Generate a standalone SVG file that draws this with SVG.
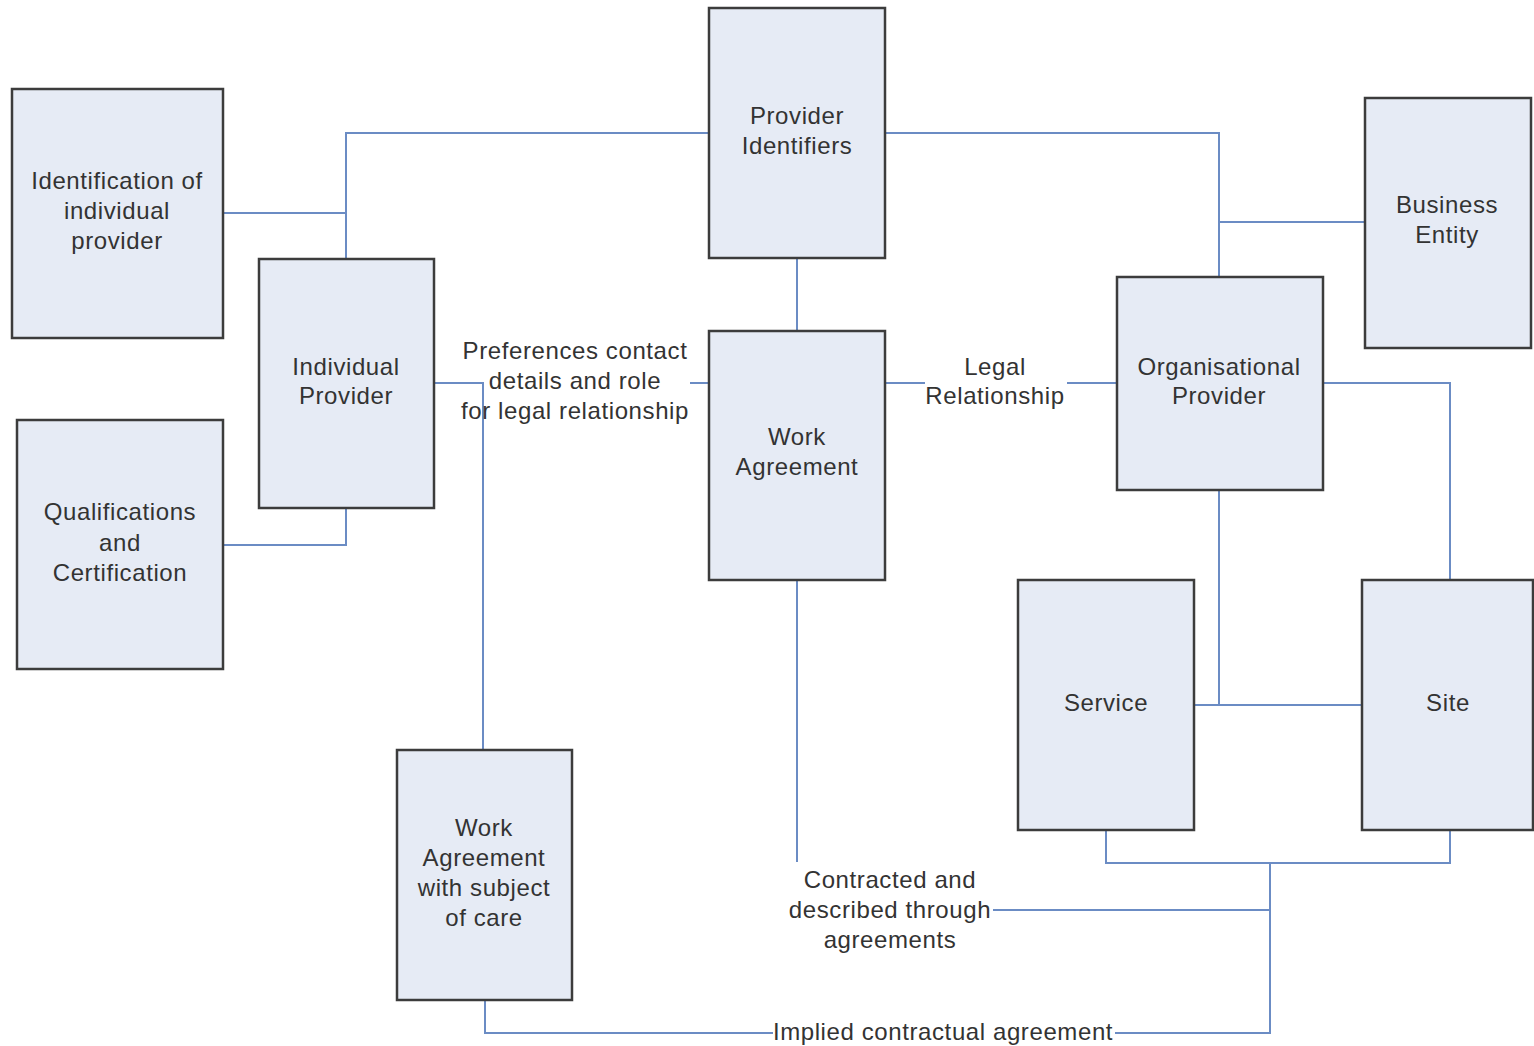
<svg xmlns="http://www.w3.org/2000/svg" width="1534" height="1046" viewBox="0 0 1534 1046">
<style>
.box{fill:#e6ebf5;stroke:#3c3c3c;stroke-width:2.5}
.t{font-family:"Liberation Sans",Arial,sans-serif;font-size:24px;letter-spacing:0.6px;fill:#333;text-anchor:middle}
.c{fill:none;stroke:#6b8cc4;stroke-width:2}
</style>
<rect width="1534" height="1046" fill="#fff"/>
<g id="connectors">
<path class="c" d="M709 133H346V259M223 213H346"/>
<path class="c" d="M885 133H1219V277M1365 222H1219"/>
<path class="c" d="M797 258V331"/>
<path class="c" d="M346 508V545H223"/>
<path class="c" d="M434 383H483V750M690 383H709"/>
<path class="c" d="M885 383H925M1067 383H1117"/>
<path class="c" d="M1323 383H1450V580"/>
<path class="c" d="M1219 490V705M1194 705H1362"/>
<path class="c" d="M797 580V862M993 910H1270"/>
<path class="c" d="M1106 830V863H1450V830M1270 863V1033H1115M773 1033H485V1000"/>
</g>
<g id="n1"><rect class="box" x="12" y="89" width="211" height="249"/><text class="t" x="117" y="189">Identification of</text><text class="t" x="117" y="219">individual</text><text class="t" x="117" y="249">provider</text></g>
<g id="n2"><rect class="box" x="17" y="420" width="206" height="249"/><text class="t" x="120" y="520">Qualifications</text><text class="t" x="120" y="551">and</text><text class="t" x="120" y="581">Certification</text></g>
<g id="n3"><rect class="box" x="259" y="259" width="175" height="249"/><text class="t" x="346" y="375">Individual</text><text class="t" x="346" y="404">Provider</text></g>
<g id="n4"><rect class="box" x="709" y="8" width="176" height="250"/><text class="t" x="797" y="124">Provider</text><text class="t" x="797" y="154">Identifiers</text></g>
<g id="n5"><rect class="box" x="709" y="331" width="176" height="249"/><text class="t" x="797" y="445">Work</text><text class="t" x="797" y="475">Agreement</text></g>
<g id="n6"><rect class="box" x="1117" y="277" width="206" height="213"/><text class="t" x="1219" y="375">Organisational</text><text class="t" x="1219" y="404">Provider</text></g>
<g id="n7"><rect class="box" x="1365" y="98" width="166" height="250"/><text class="t" x="1447" y="213">Business</text><text class="t" x="1447" y="243">Entity</text></g>
<g id="n8"><rect class="box" x="1018" y="580" width="176" height="250"/><text class="t" x="1106" y="711">Service</text></g>
<g id="n9"><rect class="box" x="1362" y="580" width="171" height="250"/><text class="t" x="1448" y="711">Site</text></g>
<g id="n10"><rect class="box" x="397" y="750" width="175" height="250"/><text class="t" x="484" y="836">Work</text><text class="t" x="484" y="866">Agreement</text><text class="t" x="484" y="896">with subject</text><text class="t" x="484" y="926">of care</text></g>
<g id="labels">
<text class="t" x="575" y="359">Preferences contact</text><text class="t" x="575" y="389">details and role</text><text class="t" x="575" y="419">for legal relationship</text>
<text class="t" x="995" y="375">Legal</text><text class="t" x="995" y="404">Relationship</text>
<text class="t" x="890" y="888">Contracted and</text><text class="t" x="890" y="918">described through</text><text class="t" x="890" y="948">agreements</text>
<text class="t" x="943" y="1040">Implied contractual agreement</text>
</g>
</svg>
